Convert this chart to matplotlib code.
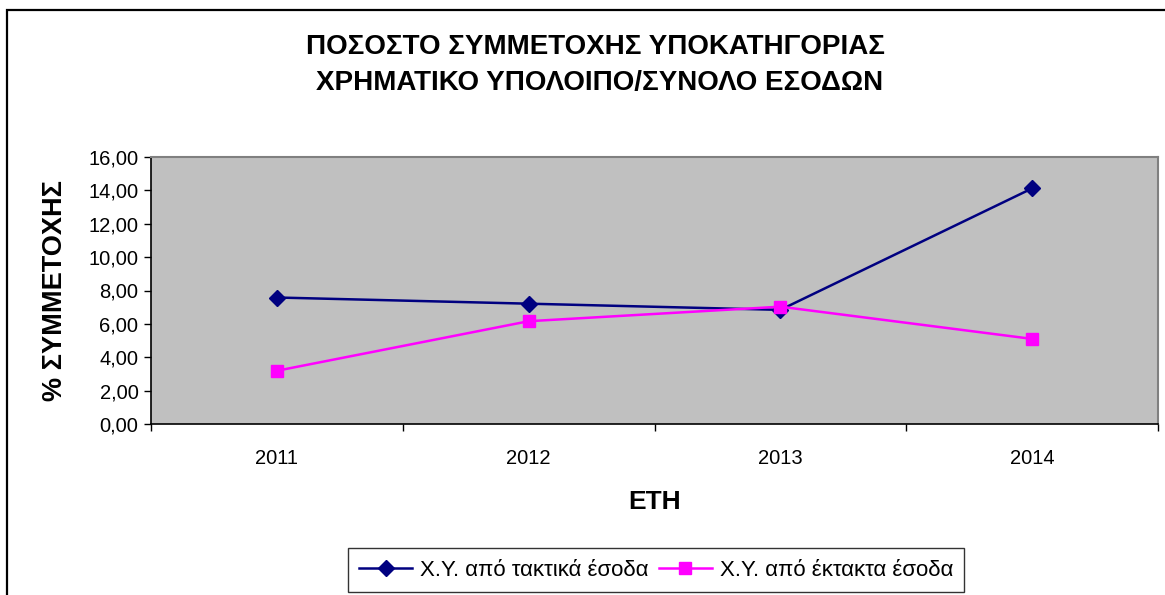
import matplotlib.pyplot as plt
from matplotlib.patches import Rectangle

plt.rcParams['font.family'] = ['Liberation Sans', 'DejaVu Sans']

# DATA
years = ['2011', '2012', '2013', '2014']
taktika = [7.58, 7.21, 6.84, 14.12]     # Χ.Υ. από τακτικά έσοδα
ektakta = [3.19, 6.16, 7.03, 5.10]      # Χ.Υ. από έκτακτα έσοδα
label_taktika = 'Χ.Υ. από τακτικά έσοδα'
label_ektakta = 'Χ.Υ. από έκτακτα έσοδα'
y_ticks = [0, 2, 4, 6, 8, 10, 12, 14, 16]

W, H = 1165, 595
fig = plt.figure(figsize=(W / 100, H / 100), dpi=100)
fig.patch.set_facecolor('white')

# outer chart frame (runs off the right and bottom edge)
fig.patches.append(Rectangle((7 / W, -0.05), 1.1, (H - 10) / H + 0.05,
                             transform=fig.transFigure, fill=False,
                             edgecolor='black', linewidth=1.6, zorder=0))

ax = fig.add_axes([151 / W, (H - 424) / H, 1007 / W, 267 / H])
ax.set_facecolor('#C0C0C0')

x = list(range(len(years)))
ax.plot(x, taktika, color='#000080', linewidth=1.8, marker='D',
        markersize=8, markerfacecolor='#000080', markeredgecolor='#000080',
        label=label_taktika, zorder=3)
ax.plot(x, ektakta, color='#FF00FF', linewidth=1.8, marker='s',
        markersize=8, markerfacecolor='#FF00FF', markeredgecolor='#FF00FF',
        label=label_ektakta, zorder=4)

ax.set_xlim(-0.5, len(years) - 0.5)
ax.set_ylim(0, 16)
ax.set_yticks(y_ticks)
ax.set_yticklabels([f'{v:.2f}'.replace('.', ',') for v in y_ticks], fontsize=14.5)

ax.set_xticks(x)
ax.set_xticklabels(years, fontsize=14.5)
ax.set_xticks([i - 0.5 for i in range(len(years) + 1)], minor=True)
ax.tick_params(axis='x', which='major', length=0, pad=18)
ax.tick_params(axis='x', which='minor', length=5, width=1, direction='out')
ax.tick_params(axis='y', length=5, width=1, direction='out', pad=4)

for side in ['top', 'right']:
    ax.spines[side].set_color('#808080')
    ax.spines[side].set_linewidth(1.5)
for side in ['left', 'bottom']:
    ax.spines[side].set_color('black')
    ax.spines[side].set_linewidth(1.2)

ax.set_xlabel('ΕΤΗ', fontsize=19, fontweight='bold', va='center')
ax.xaxis.set_label_coords(0.5, (424 - 502) / 267)
ax.set_ylabel('% ΣΥΜΜΕΤΟΧΗΣ', fontsize=19.5, fontweight='bold', va='center')
ax.yaxis.set_label_coords((55 - 151) / 1007, 0.5)

fig.text(596 / W, 1 - 47 / H, 'ΠΟΣΟΣΤΟ ΣΥΜΜΕΤΟΧΗΣ ΥΠΟΚΑΤΗΓΟΡΙΑΣ',
         ha='center', va='center', fontsize=20, fontweight='bold')
fig.text(600 / W, 1 - 83 / H, 'ΧΡΗΜΑΤΙΚΟ ΥΠΟΛΟΙΠΟ/ΣΥΝΟΛΟ ΕΣΟΔΩΝ',
         ha='center', va='center', fontsize=20, fontweight='bold')

leg = fig.legend(loc='center', bbox_to_anchor=(656 / W, 1 - 570 / H), ncol=2,
                 fontsize=16, frameon=True, fancybox=False, edgecolor='black',
                 handlelength=2.4, handletextpad=0.35, columnspacing=0.45,
                 borderpad=0.5)
leg.get_frame().set_linewidth(1.0)

fig.savefig('out.png', dpi=100)
